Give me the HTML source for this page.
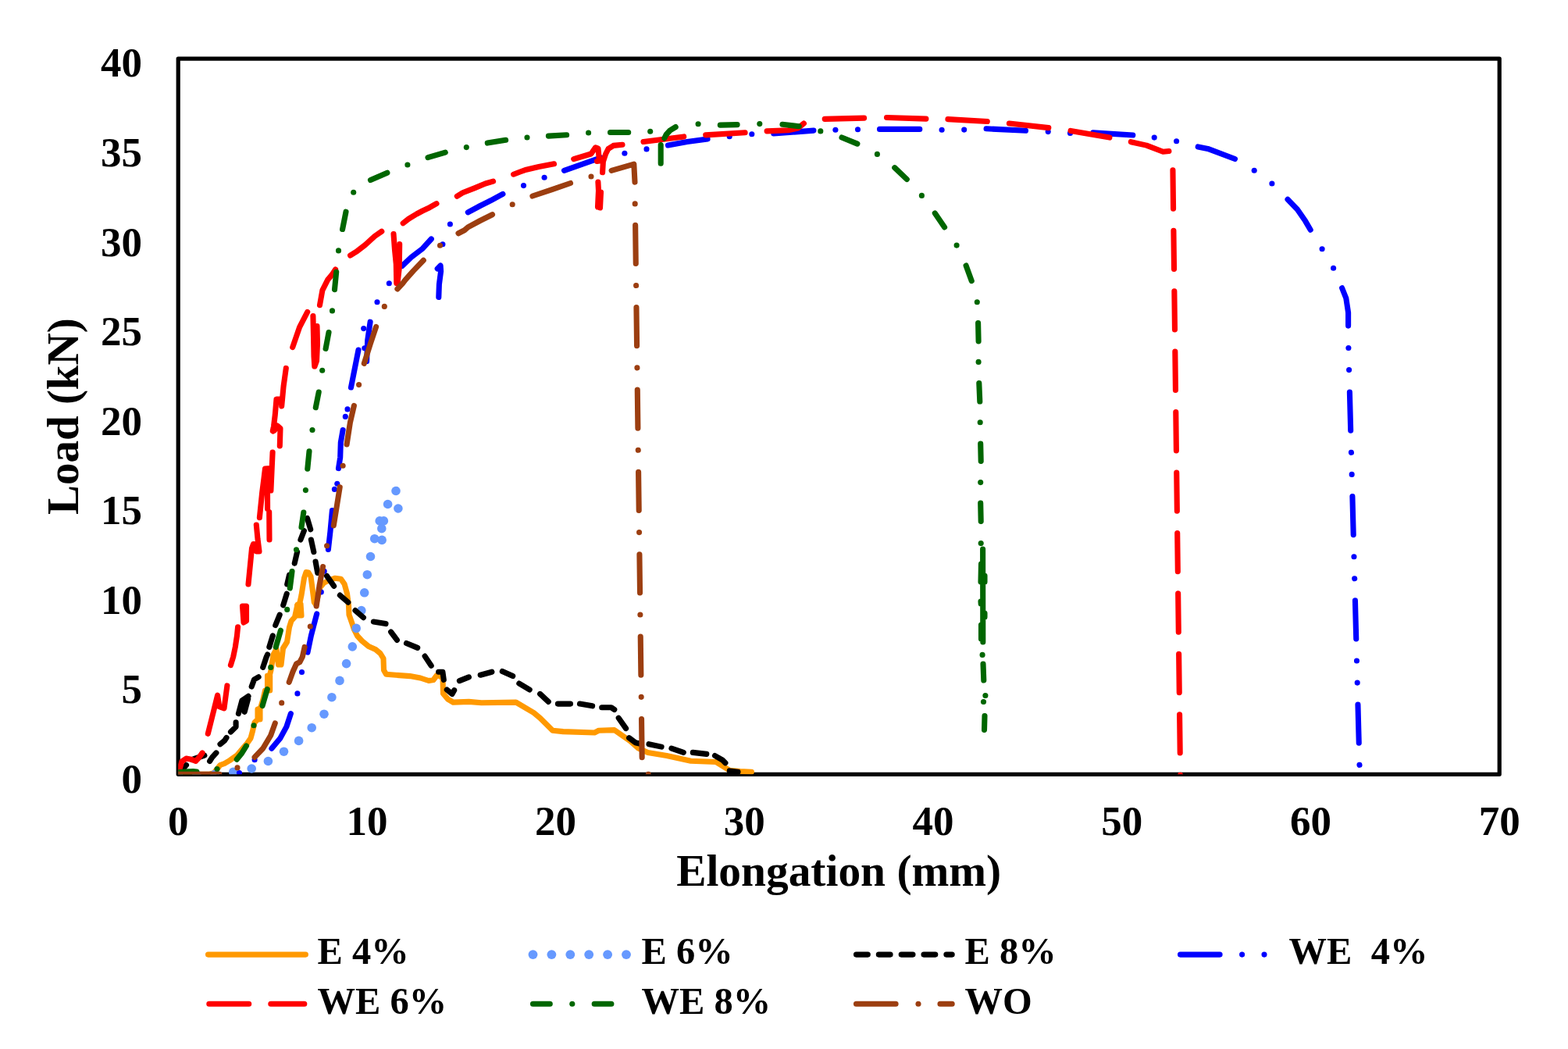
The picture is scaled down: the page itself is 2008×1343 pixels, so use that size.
<!DOCTYPE html>
<html><head><meta charset="utf-8"><title>Load vs Elongation</title><style>html,body{margin:0;padding:0;background:#fff;overflow:hidden}svg{display:block}</style></head><body>
<svg width="2008" height="1343" viewBox="0 0 2008 1343">
<rect x="0" y="0" width="2008" height="1343" fill="#ffffff"/>
<defs><clipPath id="pa"><rect x="228.2" y="75.1" width="1692.0" height="916.2"/></clipPath></defs>
<rect x="228.2" y="75.1" width="1692.0" height="916.2" fill="none" stroke="#000" stroke-width="5.2" stroke-linejoin="round"/>
<g clip-path="url(#pa)">
<g fill="none" stroke="#FF9900" stroke-width="7.10" stroke-linecap="round" stroke-linejoin="round"><path d="M228.2,991.3 268.0,991.3 274.0,989.5 278.0,984.5 282.0,979.5 287.5,977.5 294.3,973.5 303.2,967.2 309.9,959.4 316.6,951.6 321.1,944.9 323.5,936.0 326.0,925.0 330.0,921.0 331.0,908.0 334.0,905.0 337.0,895.0 339.5,884.0 342.5,884.0 343.0,866.0 345.5,864.0 347.0,858.0 350.1,838.0 354.0,831.0 356.5,851.0 360.0,851.0 362.5,830.0 365.0,826.0 367.5,822.0 370.5,803.0 373.0,795.0 377.5,790.0 381.0,774.0 385.0,773.0 386.0,788.0 383.0,776.0 386.0,762.0 389.5,740.0 392.0,732.5 395.0,733.0 398.0,738.0 400.5,757.0 402.3,771.0 404.6,774.0 407.0,764.0 410.0,752.0 414.5,746.5 420.0,743.5 429.2,740.2 436.6,741.2 441.1,747.7 444.5,760.0 446.5,775.0 447.0,787.0 450.5,797.0 453.5,806.0 457.5,814.0 463.5,820.5 472.0,827.5 481.0,831.5 487.0,836.5 491.0,843.0 491.5,858.0 494.5,863.3 525.0,865.6 538.3,868.0 549.0,871.5 555.0,870.5 559.5,864.5 564.0,866.0 567.0,868.5 567.5,888.0 573.6,895.1 580.3,899.1 600.4,898.4 616.5,899.8 660.8,899.1 683.5,912.5 691.6,919.2 707.7,935.3 721.1,936.6 761.3,938.0 766.7,935.3 786.8,934.6 806.9,948.7 817.6,958.1 829.7,963.4 853.8,967.5 884.7,974.2 916.8,975.5 934.3,986.2 947.7,987.6 962.4,988.2 M330.0,921.0 330.0,908.0 333.0,908.0 333.0,921.0 331.5,921.0 331.5,908.0 M342.5,884.0 342.5,865.0 345.7,865.0 345.7,884.0 344.0,884.0 344.0,865.0 M380.5,788.0 380.5,775.0 383.7,775.0 383.7,788.0 382.0,788.0 382.0,775.0"/></g>
<g fill="#6699FF"><circle cx="228.2" cy="991.3" r="5.80"/><circle cx="251.7" cy="991.3" r="5.80"/><circle cx="275.2" cy="991.3" r="5.80"/><circle cx="298.7" cy="988.4" r="5.80"/><circle cx="322.2" cy="984.0" r="5.80"/><circle cx="343.4" cy="974.5" r="5.80"/><circle cx="363.5" cy="962.2" r="5.80"/><circle cx="382.6" cy="948.4" r="5.80"/><circle cx="399.2" cy="931.7" r="5.80"/><circle cx="415.0" cy="914.2" r="5.80"/><circle cx="424.9" cy="892.7" r="5.80"/><circle cx="435.0" cy="871.4" r="5.80"/><circle cx="443.6" cy="849.6" r="5.80"/><circle cx="451.3" cy="827.9" r="5.80"/><circle cx="456.2" cy="804.4" r="5.80"/><circle cx="462.8" cy="781.6" r="5.80"/><circle cx="466.7" cy="758.8" r="5.80"/><circle cx="470.3" cy="735.7" r="5.80"/><circle cx="474.5" cy="712.5" r="5.80"/><circle cx="479.7" cy="689.7" r="5.80"/><circle cx="489.1" cy="691.4" r="5.80"/><circle cx="488.8" cy="676.7" r="5.80"/><circle cx="486.2" cy="666.9" r="5.80"/><circle cx="491.4" cy="666.9" r="5.80"/><circle cx="496.6" cy="645.5" r="5.80"/><circle cx="507.0" cy="628.5" r="5.80"/><circle cx="509.9" cy="651.0" r="5.80"/></g>
<g fill="none" stroke="#000000" stroke-width="7.10" stroke-linecap="round" stroke-linejoin="round"><path d="M228.2,991.3 233.0,986.0 238.5,979.5 M246.0,972.5 249.6,971.1 261.9,967.2 M268.6,974.5 271.9,969.4 276.9,963.9 M282.0,952.7 287.5,948.2 290.0,944.5 M295.5,937.0 302.1,930.4 302.1,924.8 M305.4,913.6 309.9,897.0 318.0,891.3 M313.2,911.4 317.7,894.6 M322.2,879.0 325.5,870.0 331.1,866.7 M336.7,854.4 341.2,841.0 342.6,838.0 M344.8,828.4 349.3,813.9 M352.7,800.5 358.2,787.1 M362.7,774.8 367.2,760.2 M367.7,748.0 370.5,736.0 M377.2,721.2 380.6,706.6 M384.9,691.0 389.4,679.5 M393.5,663.5 397.7,677.8 M398.4,691.0 401.8,706.6 M404.1,719.1 406.7,733.4 M418.5,737.3 427.6,750.3 M435.4,762.1 445.8,771.2 M455.0,781.6 465.4,790.7 M478.4,796.0 494.0,798.6 M500.6,809.0 508.4,819.4 M520.5,823.5 534.7,829.4 M544.1,840.1 552.2,852.2 M561.6,860.2 566.9,860.2 568.3,870.3 M572.3,883.0 579.0,888.4 581.7,883.7 M588.4,871.6 600.4,866.9 M615.2,864.2 629.9,860.2 M643.3,859.5 656.7,865.6 M664.8,875.0 678.2,883.0 M691.6,888.4 702.3,898.4 M714.4,901.1 730.5,901.1 M742.5,901.1 758.6,903.8 M770.7,905.8 782.8,905.8 786.8,908.5 M792.2,919.2 801.6,932.6 M805.6,944.7 813.6,950.7 819.0,952.0 M831.0,952.7 847.1,956.1 M859.9,958.1 875.3,963.4 M887.3,963.4 904.8,965.4 M915.5,967.5 924.9,972.8 928.9,976.8 M934.3,986.9 945.0,988.2"/></g>
<g fill="none" stroke="#0000FF" stroke-width="7.10" stroke-linecap="round" stroke-linejoin="round"><path d="M347.9,958.3 359.0,944.9 366.9,930.4 372.4,913.6 M394.0,835.1 398.4,813.9 405.7,785.9 M420.4,703.4 423.0,680.0 425.4,653.5 M433.5,599.6 435.7,585.7 436.3,566.7 439.1,550.5 M449.5,496.0 459.0,448.0 M474.1,412.2 470.7,435.7 469.6,462.5 M515.1,340.4 526.8,329.2 541.2,318.2 552.3,306.0 M560.2,343.9 564.1,340.0 564.6,347.3 562.4,364.0 561.8,380.5 M599.3,271.9 614.9,263.5 628.3,256.8 643.9,248.4 M722.5,218.3 769.2,202.0 M855.5,186.0 880.0,181.5 906.1,177.9 M990.8,171.0 1041.9,167.1 M1126.5,165.4 1177.8,165.4 M1263.1,164.8 1313.5,167.3 M1399.8,169.9 1450.8,173.0 M1534.2,187.9 1546.7,190.4 1581.5,203.5 M1649.0,255.2 1661.5,268.2 1671.7,283.1 1678.2,294.2 M1718.6,368.7 1723.8,381.7 1726.6,400.3 1726.6,417.1"/><path d="M1728.3,498.6 1741.4,995.0" stroke-dasharray="49.140 28.080 0.001 28.080 0.001 28.080" stroke-dashoffset="-3.55"/></g><g fill="#0000FF"><circle cx="306.5" cy="989.5" r="3.55"/><circle cx="326.1" cy="972.8" r="3.55"/><circle cx="380.9" cy="887.9" r="3.55"/><circle cx="386.5" cy="860.5" r="3.55"/><circle cx="411.3" cy="758.0" r="3.55"/><circle cx="415.2" cy="731.2" r="3.55"/><circle cx="428.4" cy="626.4" r="3.55"/><circle cx="431.8" cy="619.2" r="3.55"/><circle cx="442.3" cy="533.4" r="3.55"/><circle cx="445.0" cy="523.9" r="3.55"/><circle cx="466.8" cy="445.7" r="3.55"/><circle cx="465.7" cy="420.6" r="3.55"/><circle cx="483.0" cy="386.8" r="3.55"/><circle cx="498.3" cy="362.8" r="3.55"/><circle cx="566.9" cy="312.7" r="3.55"/><circle cx="576.4" cy="287.0" r="3.55"/><circle cx="670.5" cy="237.6" r="3.55"/><circle cx="697.1" cy="227.2" r="3.55"/><circle cx="799.9" cy="196.2" r="3.55"/><circle cx="828.0" cy="190.9" r="3.55"/><circle cx="934.2" cy="174.8" r="3.55"/><circle cx="962.8" cy="171.7" r="3.55"/><circle cx="1069.9" cy="166.3" r="3.55"/><circle cx="1098.5" cy="165.8" r="3.55"/><circle cx="1206.1" cy="166.3" r="3.55"/><circle cx="1234.7" cy="166.1" r="3.55"/><circle cx="1342.2" cy="168.6" r="3.55"/><circle cx="1370.5" cy="170.5" r="3.55"/><circle cx="1478.2" cy="176.1" r="3.55"/><circle cx="1506.6" cy="180.8" r="3.55"/><circle cx="1606.2" cy="218.3" r="3.55"/><circle cx="1628.9" cy="235.0" r="3.55"/><circle cx="1693.1" cy="318.8" r="3.55"/><circle cx="1707.6" cy="343.2" r="3.55"/><circle cx="1726.9" cy="445.5" r="3.55"/><circle cx="1727.6" cy="473.6" r="3.55"/></g>
<g fill="none" stroke="#FF0000" stroke-width="7.10" stroke-linecap="round" stroke-linejoin="round"><path d="M228.2,991.3 228.9,988.4 232.8,975.0 238.4,971.1 245.1,972.2 250.7,974.5 255.2,969.4 259.1,963.9 M266.3,939.3 271.9,917.0 278.6,890.1 280.8,904.7 287.0,906.9 290.9,877.9 M295.4,851.6 298.7,841.0 301.3,828.4 303.5,813.9 304.6,802.7 M310.5,776.0 315.5,776.0 315.5,795.0 312.0,797.0 310.5,776.0 M313.0,778.0 313.0,795.0 M318.0,748.0 320.3,724.5 322.5,702.0 324.5,696.5 327.0,697.0 328.5,706.0 332.0,706.0 330.0,690.0 328.3,672.0 M332.4,662.7 335.7,630.4 338.0,612.5 339.5,600.0 346.5,599.5 M342.4,601.0 342.6,651.5 M344.7,655.5 345.0,691.0 M346.9,628.0 349.1,579.0 M349.3,551.5 350.5,546.0 352.3,531.0 354.0,511.0 360.2,511.0 360.7,520.0 363.1,494.5 366.3,471.4 M349.5,552.0 351.5,551.0 355.0,545.0 359.0,548.5 358.3,571.0 M374.7,444.6 383.6,418.9 393.7,399.4 M400.9,404.5 401.5,430.0 402.0,456.0 402.8,469.0 M406.0,417.5 406.5,440.0 405.5,462.0 403.0,469.0 M409.5,390.7 412.9,371.7 419.6,358.3 425.2,351.6 429.6,344.9 M448.6,327.0 457.5,321.4 467.6,313.6 479.9,302.4 488.8,296.3 M504.0,299.5 505.5,320.0 507.3,338.2 507.8,362.8 M511.7,312.5 511.2,343.8 509.0,362.8 M516.2,285.7 523.4,280.1 533.5,274.0 541.0,270.0 550.1,265.7 559.0,260.7 M585.3,251.2 592.5,246.8 608.2,240.6 621.6,235.0 631.6,232.2 M657.6,223.2 666.0,220.0 674.0,217.2 690.0,213.5 709.5,209.8 M734.7,203.6 756.9,197.0 762.6,188.8 766.0,190.0 767.5,206.0 764.5,206.5 M771.6,220.8 772.4,207.0 775.7,197.0 779.0,190.5 785.5,186.4 797.0,185.2 M765.9,233.0 766.5,244.0 765.5,265.0 M769.5,246.0 768.5,266.0 M824.0,181.5 875.7,174.9 M903.7,172.9 954.1,169.8 M982.1,167.9 1009.5,166.7 1022.0,164.0 1029.4,158.0 M1056.2,152.4 1106.6,151.1 M1135.5,150.5 1185.9,152.1 M1213.9,152.6 1264.3,155.5 M1292.4,158.0 1342.8,163.6 M1371.1,167.4 1420.9,176.1 M1448.3,181.7 1468.2,186.1 1489.4,194.2 1496.9,193.5"/><path d="M1501.9,214.3 1511.6,996.0" stroke-dasharray="49.280 28.160" stroke-dashoffset="-3.55"/></g>
<g fill="none" stroke="#006600" stroke-width="7.10" stroke-linecap="round" stroke-linejoin="round"><path d="M228.2,988.8 237.0,988.0 247.3,987.6 251.8,988.0 M303.2,972.2 309.9,963.9 315.5,954.9 M336.1,903.5 342.3,882.3 M353.2,828.4 359.4,807.2 M371.3,753.0 374.0,731.5 M386.0,675.0 388.8,656.0 M393.8,600.2 396.0,577.9 M404.3,521.7 408.2,502.1 M417.1,446.3 421.0,425.6 M428.5,370.6 430.7,348.2 M438.6,293.5 443.0,271.2 M474.5,230.5 495.9,221.2 M548.0,201.7 570.3,195.2 M624.3,183.1 647.6,179.3 M702.4,174.1 725.6,172.8 M781.5,169.5 804.7,169.5 M846.2,185.6 846.2,209.3 M850.8,177.0 853.0,172.5 858.0,167.0 865.2,162.6 M922.3,160.1 944.1,159.6 M1002.0,159.2 1023.2,161.7 M1078.0,176.0 1097.9,184.1 M1145.7,214.7 1161.3,229.5 M1197.3,272.9 1209.6,290.9 M1237.1,340.0 1244.3,359.7 M1252.6,413.5 1253.1,437.0 M1253.8,490.5 1254.8,514.0 M1255.7,568.0 1256.2,590.5 M1255.7,644.0 1256.2,667.5 M1258.6,703.0 1258.8,822.0 M1256.5,722.0 1256.0,745.0 M1261.0,737.0 1261.0,745.0 M1256.0,770.0 1256.2,773.0 M1261.0,785.0 1261.0,790.0 M1256.5,800.0 1256.5,818.0 M1259.0,850.0 1259.8,871.0 M1261.0,916.5 1260.5,934.5"/></g><g fill="#006600"><circle cx="278.0" cy="984.5" r="3.55"/><circle cx="325.0" cy="928.7" r="3.55"/><circle cx="346.7" cy="854.4" r="3.55"/><circle cx="367.7" cy="780.4" r="3.55"/><circle cx="379.5" cy="703.8" r="3.55"/><circle cx="391.4" cy="627.6" r="3.55"/><circle cx="400.0" cy="550.5" r="3.55"/><circle cx="412.7" cy="474.2" r="3.55"/><circle cx="425.5" cy="397.9" r="3.55"/><circle cx="433.5" cy="320.9" r="3.55"/><circle cx="452.7" cy="246.3" r="3.55"/><circle cx="521.9" cy="211.0" r="3.55"/><circle cx="597.3" cy="188.6" r="3.55"/><circle cx="675.0" cy="176.0" r="3.55"/><circle cx="753.6" cy="170.0" r="3.55"/><circle cx="832.7" cy="168.2" r="3.55"/><circle cx="894.1" cy="158.8" r="3.55"/><circle cx="972.8" cy="158.6" r="3.55"/><circle cx="1050.8" cy="167.9" r="3.55"/><circle cx="1123.4" cy="197.4" r="3.55"/><circle cx="1180.4" cy="250.4" r="3.55"/><circle cx="1225.1" cy="314.1" r="3.55"/><circle cx="1251.3" cy="386.7" r="3.55"/><circle cx="1253.1" cy="463.4" r="3.55"/><circle cx="1255.2" cy="540.8" r="3.55"/><circle cx="1255.7" cy="617.6" r="3.55"/><circle cx="1256.2" cy="695.6" r="3.55"/><circle cx="1258.1" cy="838.4" r="3.55"/><circle cx="1261.9" cy="890.5" r="3.55"/><circle cx="1259.5" cy="898.5" r="3.55"/></g>
<g fill="none" stroke="#9C3E10" stroke-width="7.10" stroke-linecap="round" stroke-linejoin="round"><path d="M228.2,991.3 281.0,991.3 M326.1,969.4 336.7,958.3 346.7,941.5 352.3,925.9 M370.2,873.4 375.0,860.0 379.5,850.0 383.9,847.7 387.3,841.0 390.1,828.4 M405.2,775.9 409.0,750.0 413.5,725.6 M427.3,672.8 431.0,650.0 435.2,623.7 M444.1,568.9 448.4,541.0 453.4,519.4 M466.3,465.3 474.2,440.5 481.6,418.4 M508.9,370.0 515.6,362.8 519.0,358.3 529.0,347.1 542.3,333.3 M587.0,298.7 594.8,294.8 599.3,290.9 614.9,282.5 630.5,274.7 M681.9,251.0 707.0,242.6 730.5,234.5 M783.1,218.3 811.8,210.1 813.0,233.1"/><path d="M813.6,284.7 822.3,980.0 824.0,991.3 850.0,991.3" stroke-dasharray="49.175 28.100 0.001 28.100" stroke-dashoffset="-3.55"/></g><g fill="#9C3E10"><circle cx="304.0" cy="982.9" r="3.55"/><circle cx="360.7" cy="899.9" r="3.55"/><circle cx="397.3" cy="802.1" r="3.55"/><circle cx="418.6" cy="698.8" r="3.55"/><circle cx="439.1" cy="596.3" r="3.55"/><circle cx="459.6" cy="492.6" r="3.55"/><circle cx="492.3" cy="392.4" r="3.55"/><circle cx="563.5" cy="314.3" r="3.55"/><circle cx="656.2" cy="261.8" r="3.55"/><circle cx="757.0" cy="226.0" r="3.55"/><circle cx="813.2" cy="260.9" r="3.55"/></g>
</g>
<g font-family="'Liberation Serif', 'Times New Roman', serif" font-weight="bold" font-size="53" fill="#000">
<text x="182" y="1014.6" text-anchor="end">0</text>
<text x="182" y="900.1" text-anchor="end">5</text>
<text x="182" y="785.5" text-anchor="end">10</text>
<text x="182" y="671.0" text-anchor="end">15</text>
<text x="182" y="556.5" text-anchor="end">20</text>
<text x="182" y="442.0" text-anchor="end">25</text>
<text x="182" y="327.5" text-anchor="end">30</text>
<text x="182" y="212.9" text-anchor="end">35</text>
<text x="182" y="98.4" text-anchor="end">40</text>
<text x="228.2" y="1069.2" text-anchor="middle">0</text>
<text x="469.9" y="1069.2" text-anchor="middle">10</text>
<text x="711.6" y="1069.2" text-anchor="middle">20</text>
<text x="953.3" y="1069.2" text-anchor="middle">30</text>
<text x="1195.1" y="1069.2" text-anchor="middle">40</text>
<text x="1436.8" y="1069.2" text-anchor="middle">50</text>
<text x="1678.5" y="1069.2" text-anchor="middle">60</text>
<text x="1920.2" y="1069.2" text-anchor="middle">70</text>
</g>
<text x="1074.2" y="1133.8" text-anchor="middle" font-family="'Liberation Serif', 'Times New Roman', serif" font-weight="bold" font-size="57.4">Elongation (mm)</text>
<text transform="translate(100.3 533.2) rotate(-90)" text-anchor="middle" font-family="'Liberation Serif', 'Times New Roman', serif" font-weight="bold" font-size="57">Load (kN)</text>
<g fill="none" stroke="#FF9900" stroke-width="7.10" stroke-linecap="round" stroke-linejoin="round"><path d="M266.5,1222.1 391.4,1222.1"/></g>
<g fill="#6699FF"><circle cx="682.5" cy="1222.1" r="5.95"/><circle cx="706.4" cy="1222.1" r="5.95"/><circle cx="730.3" cy="1222.1" r="5.95"/><circle cx="754.2" cy="1222.1" r="5.95"/><circle cx="778.1" cy="1222.1" r="5.95"/><circle cx="802.0" cy="1222.1" r="5.95"/></g>
<g fill="none" stroke="#000000" stroke-width="7.10" stroke-linecap="round" stroke-linejoin="round"><path d="M1096.5,1222.1 1111.3,1222.1 M1125.3,1222.1 1140.1,1222.1 M1154.2,1222.1 1169.0,1222.1 M1183.0,1222.1 1197.8,1222.1 M1211.9,1222.1 1219.2,1222.1"/></g>
<g fill="none" stroke="#0000FF" stroke-width="7.10" stroke-linecap="round" stroke-linejoin="round"><path d="M1511.5,1222.1 1562.1,1222.1"/></g><g fill="#0000FF"><circle cx="1590.6" cy="1222.1" r="3.55"/><circle cx="1619.0" cy="1222.1" r="3.55"/></g>
<g fill="none" stroke="#FF0000" stroke-width="7.10" stroke-linecap="round" stroke-linejoin="round"><path d="M267.8,1285.3 318.7,1285.3 M346.8,1285.3 389.8,1285.3"/></g>
<g fill="none" stroke="#006600" stroke-width="7.10" stroke-linecap="round" stroke-linejoin="round"><path d="M682.5,1285.3 704.3,1285.3 M761.2,1285.3 782.9,1285.3"/></g><g fill="#006600"><circle cx="732.8" cy="1285.3" r="3.55"/></g>
<g fill="none" stroke="#9C3E10" stroke-width="7.10" stroke-linecap="round" stroke-linejoin="round"><path d="M1096.5,1285.3 1147.1,1285.3 M1204.0,1285.3 1219.2,1285.3"/></g><g fill="#9C3E10"><circle cx="1176.0" cy="1285.3" r="3.55"/></g>
<text x="406.6" y="1234.2" font-family="'Liberation Serif', 'Times New Roman', serif" font-weight="bold" font-size="48.5">E 4%</text>
<text x="821.6" y="1234.2" font-family="'Liberation Serif', 'Times New Roman', serif" font-weight="bold" font-size="48.5">E 6%</text>
<text x="1235.6" y="1234.2" font-family="'Liberation Serif', 'Times New Roman', serif" font-weight="bold" font-size="48.5">E 8%</text>
<text x="1650.6" y="1234.2" font-family="'Liberation Serif', 'Times New Roman', serif" font-weight="bold" font-size="48.5">WE  4%</text>
<text x="406.6" y="1298.2" font-family="'Liberation Serif', 'Times New Roman', serif" font-weight="bold" font-size="48.5">WE 6%</text>
<text x="821.6" y="1298.2" font-family="'Liberation Serif', 'Times New Roman', serif" font-weight="bold" font-size="48.5">WE 8%</text>
<text x="1235.6" y="1298.2" font-family="'Liberation Serif', 'Times New Roman', serif" font-weight="bold" font-size="48.5">WO</text>
</svg>
</body></html>
